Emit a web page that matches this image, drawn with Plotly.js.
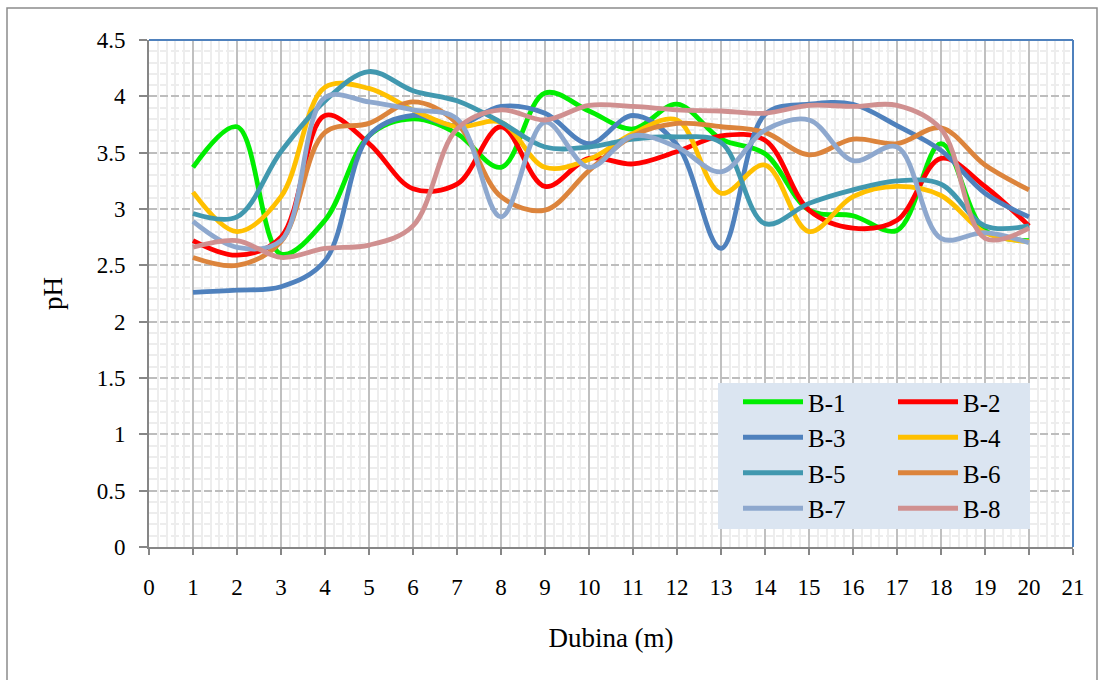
<!DOCTYPE html>
<html>
<head>
<meta charset="utf-8">
<script src="https://cdn.plot.ly/plotly-3.0.1.min.js"></script>
<style>html,body{margin:0;padding:0;background:#fff;}#chart{width:1104px;height:680px;}</style>
</head>
<body>
<div id="chart"></div>
<script>
const depth = [1,2,3,4,5,6,7,8,9,10,11,12,13,14,15,16,17,18,19,20];
const seriesNames = ["B-1","B-2","B-3","B-4","B-5","B-6","B-7","B-8"];
const B1 = [3.37,3.73,2.60,2.90,3.65,3.80,3.67,3.37,4.03,3.87,3.71,3.93,3.62,3.49,2.99,2.94,2.81,3.58,2.81,2.72];
const B2 = [2.72,2.59,2.75,3.83,3.58,3.18,3.22,3.73,3.20,3.45,3.40,3.51,3.65,3.61,2.99,2.83,2.90,3.45,3.20,2.85];
const B3 = [2.26,2.28,2.31,2.54,3.65,3.83,3.74,3.91,3.85,3.58,3.83,3.57,2.65,3.84,3.93,3.93,3.74,3.52,3.14,2.93];
const B4 = [3.15,2.80,3.11,4.08,4.07,3.88,3.73,3.77,3.37,3.44,3.67,3.79,3.14,3.39,2.80,3.11,3.20,3.12,2.79,2.71];
const B5 = [2.96,2.93,3.51,3.96,4.22,4.05,3.96,3.77,3.55,3.55,3.62,3.64,3.59,2.87,3.05,3.17,3.25,3.22,2.85,2.85];
const B6 = [2.57,2.50,2.71,3.68,3.76,3.95,3.76,3.11,2.99,3.34,3.65,3.76,3.73,3.68,3.48,3.62,3.58,3.72,3.39,3.17];
const B7 = [2.89,2.66,2.72,3.99,3.95,3.88,3.80,2.93,3.77,3.37,3.65,3.55,3.33,3.70,3.79,3.43,3.55,2.74,2.79,2.70];
const B8 = [2.66,2.72,2.57,2.65,2.68,2.85,3.71,3.88,3.79,3.92,3.91,3.88,3.87,3.85,3.92,3.91,3.92,3.71,2.74,2.83];
const seriesValues = [B1,B2,B3,B4,B5,B6,B7,B8];
const seriesColors = ["#00EE00","#FF0000","#4F81BD","#FFC000","#4198AF","#DC843C","#8EA8CE","#D09090"];
const xTicks = [0,1,2,3,4,5,6,7,8,9,10,11,12,13,14,15,16,17,18,19,20,21];

const font = "Times New Roman, Liberation Serif, serif";
const traces = seriesNames.map((n, i) => ({
  x: depth, y: seriesValues[i], name: n, type: 'scatter', mode: 'lines',
  line: {color: seriesColors[i], width: 4.8, shape: 'spline', smoothing: 1},
  legend: (i % 2 === 0) ? 'legend' : 'legend2'
}));

const px = v => (v - 149) / 924;
const py = v => (547 - v) / 507;

const layout = {
  width: 1104, height: 680,
  margin: {l: 149, r: 31, t: 40, b: 133},
  paper_bgcolor: '#ffffff', plot_bgcolor: '#ffffff',
  font: {family: font, color: '#000000', size: 23},
  showlegend: true,
  xaxis: {
    range: [0, 21], tickmode: 'array', tickvals: xTicks, ticktext: xTicks.map(String),
    showline: true, linecolor: '#868686', linewidth: 2,
    ticks: 'outside', ticklen: 6, tickcolor: '#868686', tickwidth: 2,
    showgrid: true, gridcolor: '#C0C0C0', gridwidth: 2,
    minor: {dtick: 0.2, showgrid: true, gridcolor: '#EDEDED', gridwidth: 2},
    zeroline: false, ticklabelstandoff: 12,
    tickfont: {family: font, size: 23, color: '#000'},
    title: {text: 'Dubina (m)', font: {family: font, size: 27, color: '#000'}, standoff: 30}
  },
  yaxis: {
    range: [0, 4.5], dtick: 0.5, tick0: 0,
    showline: true, linecolor: '#868686', linewidth: 2,
    ticks: 'outside', ticklen: 8, tickcolor: '#868686', tickwidth: 2,
    showgrid: true, gridcolor: '#BDBDBD', gridwidth: 2, griddash: '8px,3px',
    minor: {dtick: 0.1, showgrid: true, gridcolor: '#EDEDED', gridwidth: 2},
    zeroline: false, ticklabelstandoff: 9,
    tickfont: {family: font, size: 23, color: '#000'},
    title: {text: 'pH', font: {family: font, size: 27, color: '#000'}, standoff: 26}
  },
  legend: {
    x: px(738), y: py(379), xanchor: 'left', yanchor: 'top',
    bgcolor: 'rgba(0,0,0,0)', borderwidth: 0, itemwidth: 60,
    font: {family: font, size: 25, color: '#000'}, tracegroupgap: 0
  },
  legend2: {
    x: px(893), y: py(379), xanchor: 'left', yanchor: 'top',
    bgcolor: 'rgba(0,0,0,0)', borderwidth: 0, itemwidth: 60,
    font: {family: font, size: 25, color: '#000'}, tracegroupgap: 0
  },
  shapes: [
    {type: 'rect', xref: 'paper', yref: 'paper', x0: px(718), x1: px(1030), y0: py(529), y1: py(383),
     fillcolor: '#DBE5F1', line: {width: 0}, layer: 'above'},
    {type: 'line', xref: 'paper', yref: 'paper', x0: 0, x1: 1, y0: 1, y1: 1, line: {color: '#4F81BD', width: 2}, layer: 'above'},
    {type: 'line', xref: 'paper', yref: 'paper', x0: 1, x1: 1, y0: 0, y1: 1, line: {color: '#4F81BD', width: 2}, layer: 'above'},
    {type: 'rect', xref: 'paper', yref: 'paper', x0: px(7), x1: px(1097), y0: py(700), y1: py(8),
     fillcolor: 'rgba(0,0,0,0)', line: {color: '#8C8C8C', width: 1.5}, layer: 'below'}
  ]
};

Plotly.newPlot('chart', traces, layout, {displayModeBar: false, staticPlot: true});
</script>
</body>
</html>
